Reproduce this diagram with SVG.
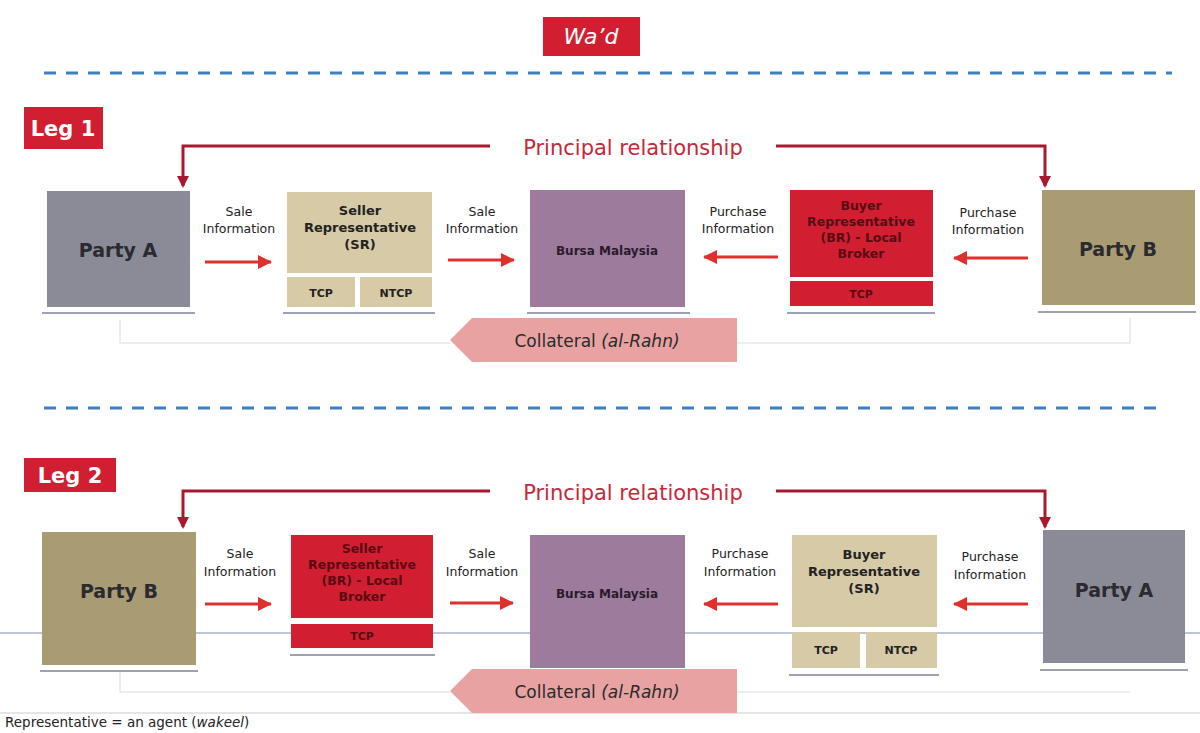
<svg xmlns="http://www.w3.org/2000/svg" width="1200" height="733" viewBox="0 0 1200 733">
<style>
.t{font-family:"DejaVu Sans",Verdana,sans-serif;}
.lbl{font-family:"DejaVu Sans",Verdana,sans-serif;font-size:12.5px;fill:#222;text-anchor:middle;}
.nb{font-family:"DejaVu Sans",Verdana,sans-serif;font-weight:bold;text-anchor:middle;}
.party{font-family:"DejaVu Sans",Verdana,sans-serif;font-size:19px;font-weight:bold;fill:#2a2a30;text-anchor:middle;}
.gray{fill:#8b8b97;}
.tan{fill:#d7caa6;}
.purple{fill:#9d7b9d;}
.red{fill:#d11f31;}
.olive{fill:#a99b72;}
.pink{fill:#e9a2a2;}
.sh{stroke:#9ea0b4;stroke-width:2;}
.info{stroke:#e0302e;stroke-width:3;fill:none;marker-end:url(#ah);}
.prin{stroke:#a8182e;stroke-width:3;fill:none;marker-end:url(#ahp);}
.dash{stroke:#3f7fc4;stroke-width:3;stroke-dasharray:12 10;}
.ghost{stroke:#e8e8ec;stroke-width:1.5;fill:none;}
</style>
<defs>
<marker id="ah" markerWidth="14" markerHeight="14" refX="13" refY="7" orient="auto" markerUnits="userSpaceOnUse" viewBox="0 0 14 14">
<path d="M0,0 L14,7 L0,14 z" fill="#e0302e"/>
</marker>
<marker id="ahp" markerWidth="12" markerHeight="12" refX="10" refY="6" orient="auto" markerUnits="userSpaceOnUse" viewBox="0 0 12 12">
<path d="M0,0 L12,6 L0,12 z" fill="#a8182e"/>
</marker>
</defs>
<rect width="1200" height="733" fill="#ffffff"/>

<g id="title">
<rect x="543" y="17" width="97" height="39" class="red"/>
<text x="591" y="44" class="t" font-size="22" font-style="italic" fill="#fff" text-anchor="middle">Wa’d</text>
</g>
<line x1="44" y1="73" x2="1172" y2="73" class="dash"/>
<line x1="44" y1="408" x2="1166" y2="408" class="dash"/>

<g id="leg1-label">
<rect x="24" y="107" width="79" height="42" class="red"/>
<text x="63" y="136" class="t" font-size="21" font-weight="bold" fill="#fff" text-anchor="middle">Leg 1</text>
</g>
<g id="leg2-label">
<rect x="24" y="458" width="92" height="34" class="red"/>
<text x="70" y="483" class="t" font-size="21" font-weight="bold" fill="#fff" text-anchor="middle">Leg 2</text>
</g>

<g id="background-lines">
<line x1="0" y1="633" x2="1200" y2="633" stroke="#a9b0cc" stroke-width="1.5"/>
<line x1="0" y1="713" x2="1200" y2="713" stroke="#dcdce0" stroke-width="1.5"/>
</g>

<g id="connectors">
<polyline points="490,146 183,146 183,186" class="prin"/>
<polyline points="776,146 1045,146 1045,186" class="prin"/>
<line x1="205" y1="262" x2="271" y2="262" class="info"/>
<line x1="448" y1="260" x2="514" y2="260" class="info"/>
<line x1="778" y1="257" x2="704" y2="257" class="info"/>
<line x1="1028" y1="258" x2="954" y2="258" class="info"/>
<polyline points="120,320 120,343 450,343" class="ghost"/>
<polyline points="737,343 1130,343 1130,318" class="ghost"/>
<polyline points="490,491 183,491 183,527" class="prin"/>
<polyline points="776,491 1045,491 1045,527" class="prin"/>
<line x1="205" y1="604" x2="271" y2="604" class="info"/>
<line x1="450" y1="603" x2="513" y2="603" class="info"/>
<line x1="778" y1="604" x2="704" y2="604" class="info"/>
<line x1="1028" y1="604" x2="954" y2="604" class="info"/>
<polyline points="120,672 120,692 450,692" class="ghost"/>
<polyline points="737,692 1130,692" class="ghost"/>
</g>

<text x="633" y="155" class="t" font-size="21" fill="#c5283a" text-anchor="middle">Principal relationship</text>
<text x="633" y="500" class="t" font-size="21" fill="#c5283a" text-anchor="middle">Principal relationship</text>

<g id="leg1-labels">
<text x="239" y="216" class="lbl">Sale</text><text x="239" y="233" class="lbl">Information</text>
<text x="482" y="216" class="lbl">Sale</text><text x="482" y="233" class="lbl">Information</text>
<text x="738" y="216" class="lbl">Purchase</text><text x="738" y="233" class="lbl">Information</text>
<text x="988" y="217" class="lbl">Purchase</text><text x="988" y="234" class="lbl">Information</text>
</g>
<g id="leg2-labels">
<text x="240" y="558" class="lbl">Sale</text><text x="240" y="576" class="lbl">Information</text>
<text x="482" y="558" class="lbl">Sale</text><text x="482" y="576" class="lbl">Information</text>
<text x="740" y="558" class="lbl">Purchase</text><text x="740" y="576" class="lbl">Information</text>
<text x="990" y="561" class="lbl">Purchase</text><text x="990" y="579" class="lbl">Information</text>
</g>

<g id="l1-partyA">
<rect x="47" y="191" width="143" height="116" class="gray"/>
<line x1="42" y1="313" x2="195" y2="313" class="sh"/>
<text x="118" y="257" class="party">Party A</text>
</g>
<g id="l1-seller">
<rect x="287" y="192" width="145" height="81" class="tan"/>
<rect x="287" y="277" width="68" height="30" class="tan"/>
<rect x="360" y="277" width="72" height="30" class="tan"/>
<line x1="283" y1="313" x2="435" y2="313" class="sh"/>
<text x="360" y="215" class="nb" font-size="13" fill="#222">Seller</text>
<text x="360" y="232" class="nb" font-size="13" fill="#222">Representative</text>
<text x="360" y="249" class="nb" font-size="13" fill="#222">(SR)</text>
<text x="321" y="297" class="nb" font-size="11" fill="#222">TCP</text>
<text x="396" y="297" class="nb" font-size="11" fill="#222">NTCP</text>
</g>
<g id="l1-bursa">
<rect x="530" y="190" width="155" height="117" class="purple"/>
<line x1="527" y1="313" x2="690" y2="313" class="sh"/>
<text x="607" y="255" class="nb" font-size="12" fill="#2a1a2a">Bursa Malaysia</text>
</g>
<g id="l1-buyer">
<rect x="790" y="190" width="143" height="87" class="red"/>
<rect x="790" y="281" width="143" height="25" class="red"/>
<line x1="787" y1="313" x2="935" y2="313" class="sh"/>
<text x="861" y="210" class="nb" font-size="12.5" fill="#5a0a12">Buyer</text>
<text x="861" y="226" class="nb" font-size="12.5" fill="#5a0a12">Representative</text>
<text x="861" y="242" class="nb" font-size="12.5" fill="#5a0a12">(BR) - Local</text>
<text x="861" y="258" class="nb" font-size="12.5" fill="#5a0a12">Broker</text>
<text x="861" y="298" class="nb" font-size="11" fill="#5a0a12">TCP</text>
</g>
<g id="l1-partyB">
<rect x="1042" y="190" width="153" height="115" class="olive"/>
<line x1="1038" y1="312" x2="1196" y2="312" class="sh"/>
<text x="1118" y="256" class="party">Party B</text>
</g>
<g id="l1-collateral">
<polygon points="450,340 472,318 737,318 737,362 472,362" class="pink"/>
<text x="597" y="347" class="t" font-size="17" fill="#2a2a2a" text-anchor="middle">Collateral <tspan font-style="italic">(al-Rahn)</tspan></text>
</g>

<g id="l2-partyB">
<rect x="42" y="532" width="154" height="133" class="olive"/>
<line x1="40" y1="671" x2="198" y2="671" class="sh"/>
<text x="119" y="598" class="party">Party B</text>
</g>
<g id="l2-seller">
<rect x="291" y="535" width="142" height="83" class="red"/>
<rect x="291" y="624" width="142" height="24" class="red"/>
<line x1="290" y1="655" x2="435" y2="655" class="sh"/>
<text x="362" y="553" class="nb" font-size="12.5" fill="#5a0a12">Seller</text>
<text x="362" y="569" class="nb" font-size="12.5" fill="#5a0a12">Representative</text>
<text x="362" y="585" class="nb" font-size="12.5" fill="#5a0a12">(BR) - Local</text>
<text x="362" y="601" class="nb" font-size="12.5" fill="#5a0a12">Broker</text>
<text x="362" y="640" class="nb" font-size="11" fill="#5a0a12">TCP</text>
</g>
<g id="l2-bursa">
<rect x="530" y="535" width="155" height="133" class="purple"/>
<line x1="527" y1="674" x2="690" y2="674" class="sh"/>
<text x="607" y="598" class="nb" font-size="12" fill="#2a1a2a">Bursa Malaysia</text>
</g>
<g id="l2-buyer">
<rect x="792" y="535" width="145" height="92" class="tan"/>
<rect x="792" y="632" width="68" height="36" class="tan"/>
<rect x="866" y="632" width="71" height="36" class="tan"/>
<line x1="789" y1="675" x2="939" y2="675" class="sh"/>
<text x="864" y="559" class="nb" font-size="13" fill="#222">Buyer</text>
<text x="864" y="576" class="nb" font-size="13" fill="#222">Representative</text>
<text x="864" y="593" class="nb" font-size="13" fill="#222">(SR)</text>
<text x="826" y="654" class="nb" font-size="11" fill="#222">TCP</text>
<text x="901" y="654" class="nb" font-size="11" fill="#222">NTCP</text>
</g>
<g id="l2-partyA">
<rect x="1043" y="530" width="142" height="133" class="gray"/>
<line x1="1040" y1="670" x2="1188" y2="670" class="sh"/>
<text x="1114" y="597" class="party">Party A</text>
</g>
<g id="l2-collateral">
<polygon points="450,691 472,669 737,669 737,713 472,713" class="pink"/>
<text x="597" y="698" class="t" font-size="17" fill="#2a2a2a" text-anchor="middle">Collateral <tspan font-style="italic">(al-Rahn)</tspan></text>
</g>

<text x="5" y="727" class="t" font-size="13.5" fill="#222">Representative = an agent (<tspan font-style="italic">wakeel</tspan>)</text>
</svg>
